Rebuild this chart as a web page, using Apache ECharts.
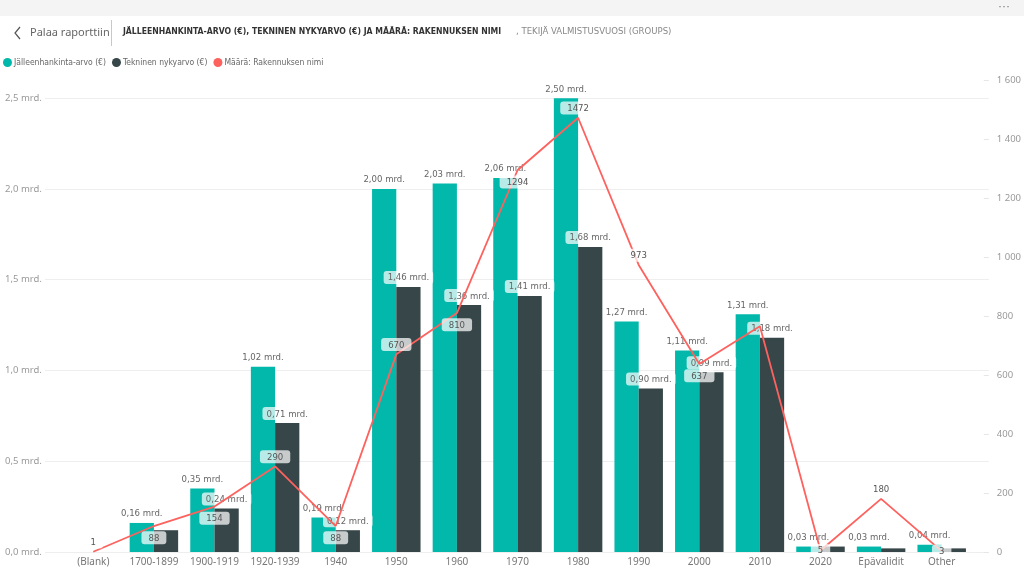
<!DOCTYPE html>
<html>
<head>
<meta charset="utf-8">
<script src="https://cdn.jsdelivr.net/npm/echarts@6/dist/echarts.min.js"></script>
<style>html,body{margin:0;padding:0;background:#fff}#c{width:1024px;height:576px}</style>
</head>
<body>
<div id="c"></div>
<script>
const categories = ['(Blank)', '1700-1899', '1900-1919', '1920-1939', '1940', '1950', '1960', '1970', '1980', '1990', '2000', '2010', '2020', 'Epävalidit', 'Other'];
const replacementValues = [0, 0.16, 0.35, 1.02, 0.19, 2.00, 2.03, 2.06, 2.50, 1.27, 1.11, 1.31, 0.03, 0.03, 0.04];
const technicalValues = [0, 0.12, 0.24, 0.71, 0.12, 1.46, 1.36, 1.41, 1.68, 0.90, 0.99, 1.18, 0.03, 0.02, 0.02];
const countValues = [1, 88, 154, 290, 88, 670, 810, 1294, 1472, 973, 637, 765, 5, 180, 3];
const leftTicks = [0, 0.5, 1.0, 1.5, 2.0, 2.5];
const rightTicks = [0, 200, 400, 600, 800, 1000, 1200, 1400, 1600];

// label visibility / placement (presentation only)
const showReplacementLabel = [false, true, true, true, true, true, true, true, true, true, true, true, true, true, true];
const showTechnicalLabel = [false, false, true, true, true, true, true, true, true, true, true, true, false, false, false];
const countLabelPos = ['top', 'bottom', 'bottom', 'top', 'bottom', 'top', 'bottom', 'bottom', 'top', 'top', 'bottom', null, 'inside', 'top', 'inside'];

const labelFont = '"Liberation Sans Narrow", "DejaVu Sans Condensed", sans-serif';
const uiFont = '"Noto Sans", "Open Sans", sans-serif';
const mrd = v => v.toFixed(2).replace('.', ',') + ' mrd.';
const thousands = v => String(v).replace(/\B(?=(\d{3})+(?!\d))/g, ' ');

const chart = echarts.init(document.getElementById('c'), null, {renderer: 'canvas'});

const option = {
  animation: false,
  backgroundColor: '#ffffff',
  color: ['#01B8AA', '#374649', '#FD625E'],
  legend: {
    left: 3, top: 58, padding: 0, itemGap: 6,
    icon: 'circle', itemWidth: 9, itemHeight: 9,
    textStyle: {fontSize: 8.5, color: '#666', fontFamily: labelFont, padding: [0, 0, 0, -3]},
    data: ['Jälleenhankinta-arvo (€)', 'Tekninen nykyarvo (€)', 'Määrä: Rakennuksen nimi']
  },
  graphic: [
    {type: 'rect', shape: {x: 0, y: 0, width: 1024, height: 16}, style: {fill: '#f4f4f4'}, silent: true},
    {type: 'text', x: 1004, y: 7, style: {text: '···', fill: '#777', fontSize: 12, align: 'center', verticalAlign: 'middle'}},
    {type: 'polyline', shape: {points: [[20, 27], [15, 33], [20, 39]]}, style: {stroke: '#555', lineWidth: 1.2, fill: null}},
    {type: 'text', x: 30, y: 33, style: {text: 'Palaa raporttiin', fill: '#666', fontSize: 11, fontFamily: uiFont, verticalAlign: 'middle'}},
    {type: 'line', shape: {x1: 111.5, y1: 20, x2: 111.5, y2: 46}, style: {stroke: '#c8c8c8', lineWidth: 1}},
    {type: 'text', x: 123, y: 32, style: {text: 'JÄLLEENHANKINTA-ARVO (€), TEKNINEN NYKYARVO (€) JA MÄÄRÄ: RAKENNUKSEN NIMI', fill: '#333', fontSize: 8.6, fontWeight: 'bold', fontFamily: labelFont, verticalAlign: 'middle'}},
    {type: 'text', x: 516, y: 32, style: {text: ', TEKIJÄ VALMISTUSVUOSI (GROUPS)', fill: '#888', fontSize: 9.5, fontFamily: labelFont, verticalAlign: 'middle'}}
  ],
  grid: [
    {left: 45, right: 34, top: 80, bottom: 24},
    {left: 63, right: 52, top: 80, bottom: 24}
  ],
  xAxis: [
    {gridIndex: 0, type: 'value', show: false, min: 0, max: 1},
    {
      gridIndex: 1, type: 'category', data: categories,
      axisLine: {show: false}, axisTick: {show: false},
      axisLabel: {interval: 0, color: '#777', fontSize: 10, margin: 5, fontFamily: uiFont}
    }
  ],
  yAxis: [
    {
      gridIndex: 0, type: 'value', position: 'left', min: 0, max: 2.6, interval: 0.5,
      axisLine: {show: false}, axisTick: {show: false},
      splitLine: {show: true, showMaxLine: false, lineStyle: {color: '#eeeeee', width: 1}},
      axisLabel: {
        align: 'left', margin: 40, color: '#999', fontSize: 9.5, fontFamily: uiFont, showMaxLabel: false,
        formatter: v => leftTicks.indexOf(Math.round(v * 10) / 10) >= 0 ? v.toFixed(1).replace('.', ',') + ' mrd.' : ''
      }
    },
    {
      gridIndex: 0, type: 'value', position: 'right', min: 0, max: 1600, interval: 200,
      axisLine: {show: false},
      axisTick: {show: true, inside: true, length: 5, lineStyle: {color: '#e6e6e6'}},
      splitLine: {show: false},
      axisLabel: {
        align: 'left', margin: 8, color: '#999', fontSize: 9.5, fontFamily: uiFont,
        formatter: v => rightTicks.indexOf(v) >= 0 ? thousands(v) : ''
      }
    },
    {gridIndex: 1, type: 'value', min: 0, max: 2.6, show: false, splitLine: {show: false}},
    {gridIndex: 1, type: 'value', min: 0, max: 1600, show: false, splitLine: {show: false}}
  ],
  series: [
    {
      name: 'Jälleenhankinta-arvo (€)', type: 'bar', xAxisIndex: 1, yAxisIndex: 2,
      barGap: '0%', barCategoryGap: '20%',
      data: replacementValues.map((v, i) => ({value: v, label: {show: showReplacementLabel[i]}})),
      label: {
        position: 'top', distance: 4, color: '#666', fontSize: 9.5, fontFamily: labelFont,
        formatter: p => mrd(p.value)
      }
    },
    {
      name: 'Tekninen nykyarvo (€)', type: 'bar', xAxisIndex: 1, yAxisIndex: 2,
      data: technicalValues.map((v, i) => ({value: v, label: {show: showTechnicalLabel[i]}})),
      label: {
        position: 'top', distance: 3, color: '#666', fontSize: 9.5, fontFamily: labelFont,
        backgroundColor: 'rgba(255,255,255,0.72)', padding: [2, 4, 1, 4], borderRadius: 3,
        formatter: p => mrd(p.value)
      }
    },
    {
      name: 'Määrä: Rakennuksen nimi', type: 'line', xAxisIndex: 1, yAxisIndex: 3, z: 5,
      showSymbol: true, symbol: 'circle', symbolSize: 0.5,
      lineStyle: {color: '#FD625E', width: 1.8},
      itemStyle: {color: '#FD625E'},
      data: countValues.map((v, i) => ({
        value: v,
        label: countLabelPos[i] ? {show: true, position: countLabelPos[i], distance: countLabelPos[i] === 'bottom' ? 5 : 3} : {show: false}
      })),
      label: {
        show: true,
        color: '#555', fontSize: 9.5, fontFamily: labelFont,
        backgroundColor: 'rgba(255,255,255,0.72)', padding: [2, 7, 1, 7], borderRadius: 3
      },
      labelLayout: {hideOverlap: false}
    }
  ]
};
chart.setOption(option);
</script>
</body>
</html>
